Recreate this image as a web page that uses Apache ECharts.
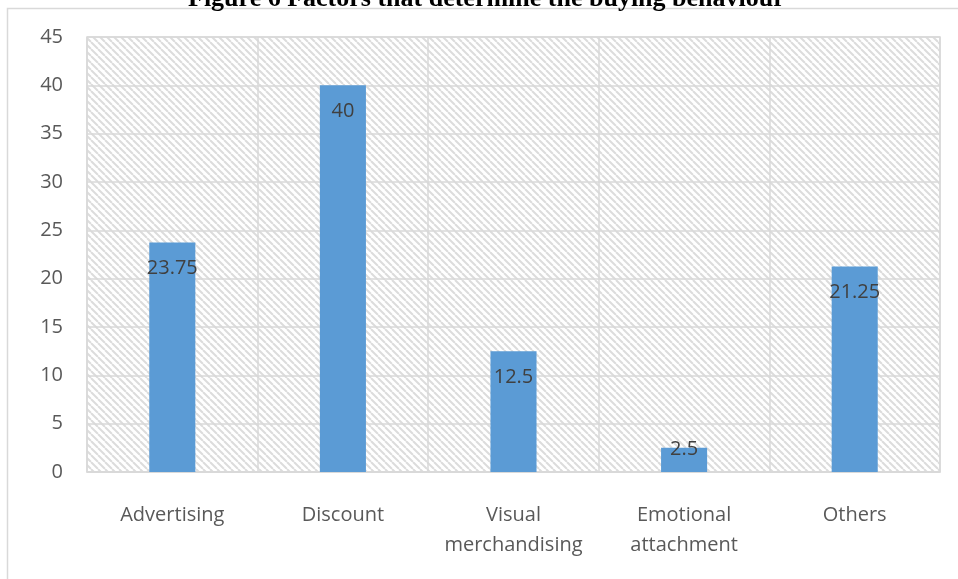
<!DOCTYPE html>
<html><head><meta charset="utf-8">
<script src="https://cdn.jsdelivr.net/npm/echarts@6/dist/echarts.min.js"></script>
<style>html,body{margin:0;padding:0;background:#fff}#c{width:958px;height:579px}</style>
</head><body><div id="c"></div>
<script>
const title = 'Figure 6 Factors that determine the buying behaviour';
const categories = ['Advertising', 'Discount', 'Visual\nmerchandising', 'Emotional\nattachment', 'Others'];
const values = [23.75, 40, 12.5, 2.5, 21.25];
const yTicks = [0, 5, 10, 15, 20, 25, 30, 35, 40, 45];

function hatch() {
  const c = document.createElement('canvas');
  const s = 7;
  c.width = s; c.height = s;
  const g = c.getContext('2d');
  g.fillStyle = '#ffffff'; g.fillRect(0, 0, s, s);
  g.strokeStyle = '#dcdcdc'; g.lineWidth = 2;
  for (let k = -1; k <= 1; k++) {
    g.beginPath(); g.moveTo(k * s, 0); g.lineTo(k * s + s, s); g.stroke();
  }
  return c;
}

const chart = echarts.init(document.getElementById('c'));
const font = 'Open Sans';
chart.setOption({
  animation: false,
  backgroundColor: '#fff',
  title: { text: title, left: 183, top: -19,
    textStyle: { fontFamily: 'Liberation Serif', fontWeight: 'bold', fontSize: 26, color: '#000' } },
  graphic: [{ type: 'rect', shape: { x: 7.5, y: 8.5, width: 1200, height: 1200 },
    style: { fill: '#fff', stroke: '#d9d9d9', lineWidth: 1.5 }, silent: true, z: -10 }],
  grid: { left: 87, right: 18, top: 37, bottom: 107, show: true,
    backgroundColor: { image: hatch(), repeat: 'repeat' }, borderColor: '#d9d9d9', borderWidth: 1.5 },
  xAxis: { type: 'category', data: categories,
    axisLine: { show: true, lineStyle: { color: '#d9d9d9', width: 1.5 } },
    axisTick: { show: false },
    splitLine: { show: true, lineStyle: { color: '#d9d9d9', width: 1.5 } },
    axisLabel: { color: '#595959', fontFamily: font, fontSize: 20, margin: 28, lineHeight: 30, interval: 0 } },
  yAxis: { type: 'value', min: 0, max: 45, interval: 5,
    axisLine: { show: false }, axisTick: { show: false },
    splitLine: { lineStyle: { color: '#d9d9d9', width: 1.5 } },
    axisLabel: { color: '#595959', fontFamily: font, fontSize: 20, margin: 24,
      formatter: v => yTicks.includes(v) ? String(v) : '' } },
  series: [{ type: 'bar', barWidth: '27%',
    data: values.map(v => v < 5 ? { value: v, label: { position: 'top', distance: -11 } } : v),
    itemStyle: { color: '#5b9bd5' },
    label: { show: true, position: 'insideTop', distance: 16, color: '#404040', fontFamily: font, fontSize: 20 } }]
});
</script></body></html>
